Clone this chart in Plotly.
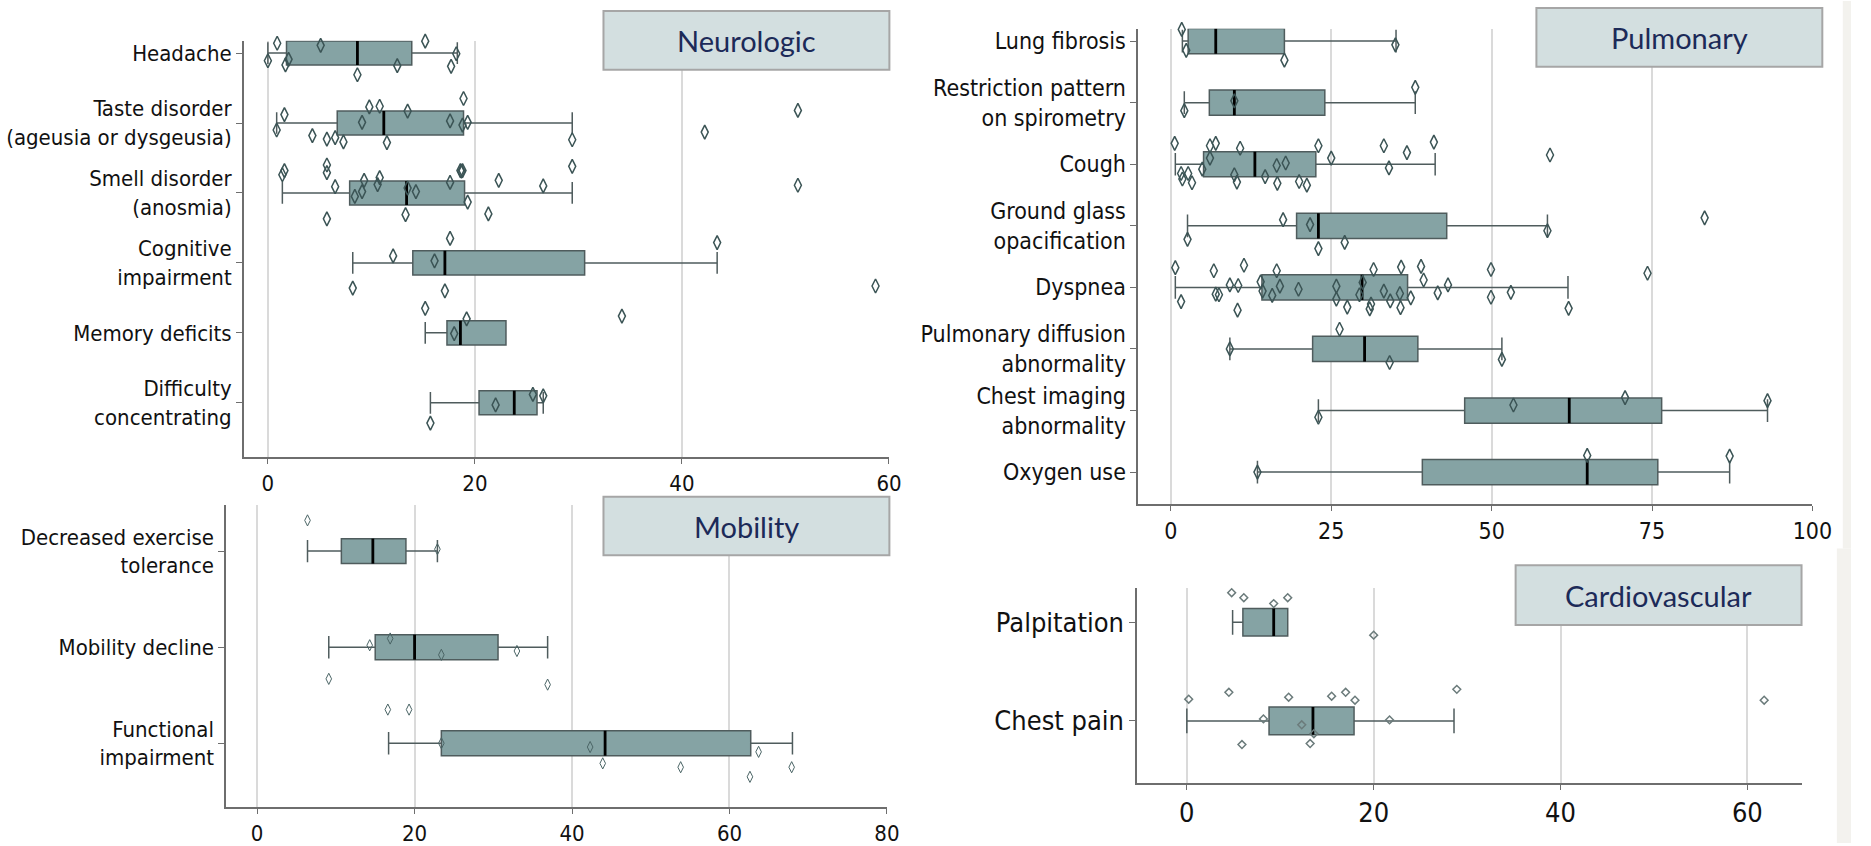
import plotly.graph_objects as go

# ---------------- DATA ----------------
# Neurologic
neuro_labels = ["Headache", "Taste disorder<br>(ageusia or dysgeusia)", "Smell disorder<br>(anosmia)",
                "Cognitive<br>impairment", "Memory deficits", "Difficulty<br>concentrating"]
neuro_q1 = [1.8, 6.7, 7.9, 14.0, 17.3, 20.4]
neuro_med = [8.65, 11.2, 13.4, 17.1, 18.6, 23.8]
neuro_q3 = [13.9, 18.9, 19.0, 30.6, 23.0, 26.0]
neuro_lo = [0.0, 0.85, 1.4, 8.2, 15.2, 15.7]
neuro_hi = [18.3, 29.4, 29.4, 43.4, 23.0, 26.6]
neuro_pts = [
    ([0.9, 5.1, 12.2, 15.2, 0, 2.0, 1.7, 8.65, 12.5, 18.2, 17.7],
     [-0.14, -0.11, -0.26, -0.17, 0.11, 0.09, 0.17, 0.31, 0.18, 0.01, 0.19]),
    ([1.6, 0.85, 4.3, 5.7, 6.5, 7.3, 9.8, 10.8, 9.1, 11.5, 13.5, 17.6, 18.9, 18.8, 19.3, 29.4, 42.2, 51.2],
     [-0.12, 0.10, 0.18, 0.23, 0.21, 0.27, -0.23, -0.24, -0.01, 0.28, -0.17, -0.03, -0.35, 0.03, -0.01, 0.24, 0.13, -0.18]),
    ([1.6, 1.4, 5.7, 5.7, 6.5, 8.4, 9.1, 9.3, 10.6, 10.8, 13.5, 14.3, 13.3, 5.7, 17.6, 18.6, 18.7, 18.8, 19.3, 21.3, 22.3, 26.6, 29.4, 51.2],
     [-0.32, -0.26, -0.40, -0.29, -0.09, 0.05, -0.02, -0.18, -0.12, -0.22, -0.07, -0.02, 0.31, 0.37, -0.15, -0.32, -0.31, -0.32, 0.13, 0.30, -0.18, -0.10, -0.38, -0.11]),
    ([17.6, 43.4, 12.1, 16.1, 8.2, 17.1, 58.7],
     [-0.35, -0.29, -0.10, -0.03, 0.36, 0.40, 0.33]),
    ([15.2, 19.2, 34.2, 18.0],
     [-0.35, -0.20, -0.24, 0.01]),
    ([25.6, 26.6, 22.0, 15.7],
     [-0.12, -0.10, 0.03, 0.29]),
]

# Mobility
mob_labels = ["Decreased exercise<br>tolerance", "Mobility decline", "Functional<br>impairment"]
mob_q1 = [10.7, 15.0, 23.4]
mob_med = [14.7, 20.0, 44.2]
mob_q3 = [18.9, 30.6, 62.7]
mob_lo = [6.4, 9.1, 16.7]
mob_hi = [22.9, 36.9, 68.0]
mob_pts = [
    ([6.4, 22.9], [-0.32, -0.02]),
    ([16.9, 14.3, 23.4, 33.0, 9.1, 36.9], [-0.09, -0.02, 0.08, 0.04, 0.33, 0.39]),
    ([16.6, 19.3, 23.4, 42.3, 43.9, 53.8, 62.6, 63.7, 67.9],
     [-0.35, -0.35, 0.0, 0.04, 0.21, 0.25, 0.35, 0.09, 0.25]),
]

# Pulmonary
pulm_labels = ["Lung fibrosis", "Restriction pattern<br>on spirometry", "Cough", "Ground glass<br>opacification",
               "Dyspnea", "Pulmonary diffusion<br>abnormality", "Chest imaging<br>abnormality", "Oxygen use"]
pulm_q1 = [2.7, 6.0, 5.1, 19.6, 14.2, 22.1, 45.8, 39.2]
pulm_med = [7.0, 9.9, 13.1, 23.0, 29.8, 30.2, 62.1, 64.9]
pulm_q3 = [17.7, 24.0, 22.6, 43.0, 36.9, 38.5, 76.5, 75.9]
pulm_lo = [1.8, 2.1, 0.7, 2.6, 0.7, 9.2, 23.0, 13.5]
pulm_hi = [35.1, 38.1, 41.2, 58.7, 61.9, 51.6, 93.0, 87.1]
pulm_pts = [
    ([1.7, 7.0, 2.4, 17.7, 35.0], [-0.19, -0.33, 0.15, 0.31, 0.06]),
    ([9.9, 2.1, 38.1], [-0.03, 0.13, -0.25]),
    ([0.6, 6.1, 7.0, 10.8, 23.0, 33.2, 41.0, 36.8, 25.0, 59.1, 6.1, 4.9, 1.6, 2.7, 1.8, 3.3, 9.9, 10.3, 16.5, 17.9, 14.7, 16.6, 20.0, 21.2, 34.0],
     [-0.34, -0.30, -0.34, -0.26, -0.30, -0.30, -0.36, -0.19, -0.10, -0.15, -0.10, 0.08, 0.15, 0.15, 0.24, 0.30, 0.17, 0.29, 0.02, -0.02, 0.20, 0.31, 0.28, 0.34, 0.06]),
    ([17.5, 21.7, 2.6, 23.0, 27.1, 58.7, 83.2], [-0.10, -0.02, 0.22, 0.37, 0.27, 0.08, -0.13]),
    ([0.7, 6.7, 11.4, 16.5, 31.6, 35.9, 39.0, 49.9, 74.3, 14.0, 39.4, 9.2, 10.5, 17.0, 19.9, 25.8, 29.9,
      14.3, 15.8, 7.0, 7.5, 1.6, 10.4, 25.8, 27.5, 29.4, 31.0, 31.2, 33.2, 34.2, 35.7, 35.8, 37.4, 41.6, 43.2, 49.9, 53.0, 62.0],
     [-0.32, -0.27, -0.36, -0.27, -0.29, -0.33, -0.34, -0.29, -0.23, -0.09, -0.12, -0.04, -0.03, -0.02, 0.03, -0.02, -0.08,
      0.06, 0.13, 0.11, 0.12, 0.23, 0.37, 0.19, 0.32, 0.12, 0.35, 0.27, 0.06, 0.22, 0.10, 0.33, 0.17, 0.09, -0.04, 0.16, 0.08, 0.34]),
    ([26.3, 9.2, 34.1, 51.6], [-0.32, 0.0, 0.22, 0.17]),
    ([23.0, 53.4, 70.8, 93.0], [0.11, -0.09, -0.21, -0.16]),
    ([13.5, 64.9, 87.1], [0.0, -0.27, -0.26]),
]

# Cardiovascular
card_labels = ["Palpitation", "Chest pain"]
card_q1 = [6.0, 8.8]
card_med = [9.3, 13.5]
card_q3 = [10.8, 17.9]
card_lo = [4.9, 0.0]
card_hi = [10.8, 28.6]
card_pts = [
    ([4.8, 6.1, 10.8, 9.3, 20.0], [-0.30, -0.25, -0.25, -0.19, 0.13]),
    ([0.2, 4.5, 10.9, 15.5, 17.0, 18.0, 28.9, 61.8, 8.2, 12.3, 13.6, 21.7, 5.9, 13.2],
     [-0.22, -0.29, -0.24, -0.25, -0.29, -0.21, -0.32, -0.21, -0.02, 0.04, 0.13, -0.01, 0.24, 0.23]),
]

neuro_ticks = [0, 20, 40, 60]
mob_ticks = [0, 20, 40, 60, 80]
pulm_ticks = [0, 25, 50, 75, 100]
card_ticks = [0, 20, 40, 60]

# ---------------- STYLE ----------------
W, H = 1871, 846
BOX_FILL = "#85a3a4"
BOX_LINE = "#4f5c5d"
PT_COLOR = "#3b5455"
LABEL_FONT = "DejaVu Sans Condensed, DejaVu Sans, sans-serif"
TITLE_FONT = "Lato, Open Sans, sans-serif"

panels = [
    dict(name="Neurologic", labels=neuro_labels, q1=neuro_q1, med=neuro_med, q3=neuro_q3, lo=neuro_lo, hi=neuro_hi,
         pts=neuro_pts, ticks=neuro_ticks, xpx=(246.7, 898.6), ypx=(40, 458.3), xr=[-2.3, 60], yr=[5.777, -0.175],
         bw=0.345, fs=22, msym="diamond-tall-open", msize=10, mlw=1.5, mcol=PT_COLOR,
         box=(610, 899, 10, 69)),
    dict(name="Mobility", labels=mob_labels, q1=mob_q1, med=mob_med, q3=mob_q3, lo=mob_lo, hi=mob_hi,
         pts=mob_pts, ticks=mob_ticks, xpx=(228.8, 896.5), ypx=(506.7, 810), xr=[-3.91, 80], yr=[2.666, -0.477],
         bw=0.26, fs=22, msym="diamond-tall-open", msize=8, mlw=1, mcol="#4b6566",
         box=(610, 899, 498, 557)),
    dict(name="Pulmonary", labels=pulm_labels, q1=pulm_q1, med=pulm_med, q3=pulm_q3, lo=pulm_lo, hi=pulm_hi,
         pts=pulm_pts, ticks=pulm_ticks, xpx=(1150.8, 1832), ypx=(28, 505.3), xr=[-5.04, 100], yr=[7.517, -0.199],
         bw=0.41, fs=23, msym="diamond-tall-open", msize=10, mlw=1.5, mcol=PT_COLOR,
         box=(1553, 1842, 7, 66)),
    dict(name="Cardiovascular", labels=card_labels, q1=card_q1, med=card_med, q3=card_q3, lo=card_lo, hi=card_hi,
         pts=card_pts, ticks=card_ticks, xpx=(1149.7, 1821), ypx=(590, 785.7), xr=[-5.29, 65.8], yr=[1.63, -0.346],
         bw=0.28, fs=27, msym="diamond-open", msize=6, mlw=1.5, mcol="#6b7b7b",
         box=(1532, 1821, 567, 627)),
]

fig = go.Figure()
layout = dict(width=W, height=H, margin=dict(l=0, r=0, t=0, b=0), paper_bgcolor="white",
              plot_bgcolor="rgba(0,0,0,0)", showlegend=False, shapes=[], annotations=[])

# faint page-edge strip at the right border of the reference image
STRIP = "#f3f2ee"
layout["shapes"].append(dict(type="rect", xref="paper", yref="paper", x0=1862.7 / W, x1=1,
                             y0=1 - 550 / H, y1=1, fillcolor=STRIP, line=dict(width=0), layer="below"))
layout["shapes"].append(dict(type="rect", xref="paper", yref="paper", x0=1856.7 / W, x1=1,
                             y0=0, y1=1 - 550 / H, fillcolor=STRIP, line=dict(width=0), layer="below"))

for i, p in enumerate(panels):
    k = "" if i == 0 else str(i + 1)
    xa, ya = "x" + k, "y" + k
    n = len(p["labels"])
    pos = list(range(n))
    fig.add_trace(go.Box(
        y=pos, q1=p["q1"], median=p["med"], q3=p["q3"], lowerfence=p["lo"], upperfence=p["hi"],
        orientation="h", width=p["bw"], whiskerwidth=0.9, boxpoints=False,
        fillcolor=BOX_FILL, line=dict(color=BOX_LINE, width=1.5),
        xaxis=xa, yaxis=ya, hoverinfo="skip"))
    # median lines
    mx, my = [], []
    for j in range(n):
        mx += [p["med"][j], p["med"][j], None]
        my += [j - p["bw"] / 2, j + p["bw"] / 2, None]
    fig.add_trace(go.Scatter(x=mx, y=my, mode="lines", line=dict(color="black", width=2.8),
                             xaxis=xa, yaxis=ya, hoverinfo="skip"))
    # points
    px, py = [], []
    for j, (vals, jit) in enumerate(p["pts"]):
        px += vals
        py += [j + d for d in jit]
    fig.add_trace(go.Scatter(x=px, y=py, mode="markers", cliponaxis=False,
                             marker=dict(symbol=p["msym"], size=p["msize"], color=p["mcol"],
                                         line=dict(color=p["mcol"], width=p["mlw"])),
                             xaxis=xa, yaxis=ya, hoverinfo="skip"))

    layout["xaxis" + k] = dict(domain=[p["xpx"][0] / W, p["xpx"][1] / W], range=p["xr"], anchor=ya,
                               tickvals=p["ticks"], showgrid=True, gridcolor="#dadada", gridwidth=1.5,
                               zeroline=False, showline=True, linecolor="#6e6e6e", linewidth=2,
                               ticks="outside", ticklen=5, tickcolor="#6e6e6e",
                               tickfont=dict(family=LABEL_FONT, size=p["fs"], color="#111"))
    layout["yaxis" + k] = dict(domain=[1 - p["ypx"][1] / H, 1 - p["ypx"][0] / H], range=p["yr"], anchor=xa,
                               tickvals=pos, ticktext=p["labels"], showgrid=False, zeroline=False,
                               showline=True, linecolor="#6e6e6e", linewidth=2,
                               ticks="outside", ticklen=6, tickcolor="#6e6e6e",
                               tickfont=dict(family=LABEL_FONT, size=p["fs"], color="#111"))
    x0, x1, y0, y1 = p["box"]
    layout["shapes"].append(dict(type="rect", xref="paper", yref="paper", x0=x0 / W, x1=x1 / W,
                                 y0=1 - y1 / H, y1=1 - y0 / H, fillcolor="#d3dfe0",
                                 line=dict(color="#a6a6a6", width=2), layer="above"))
    layout["annotations"].append(dict(xref="paper", yref="paper", x=(x0 + x1) / 2 / W, y=1 - (y0 + y1) / 2 / H,
                                      text=p["name"], showarrow=False, xanchor="center", yanchor="middle",
                                      font=dict(family=TITLE_FONT, size=29, color="#1c2a58")))

fig.update_layout(**layout)

post = (
    "var gd=document.getElementById('{plot_id}');"
    "document.documentElement.style.overflow='hidden';"
    "document.documentElement.style.margin='0';"
    "document.body.style.margin='0';document.body.style.padding='0';document.body.style.overflow='hidden';"
    "Plotly.relayout(gd,{width:document.documentElement.clientWidth,height:document.documentElement.clientHeight});"
)
fig.write_html("out.html", config={"displayModeBar": False}, post_script=post)
